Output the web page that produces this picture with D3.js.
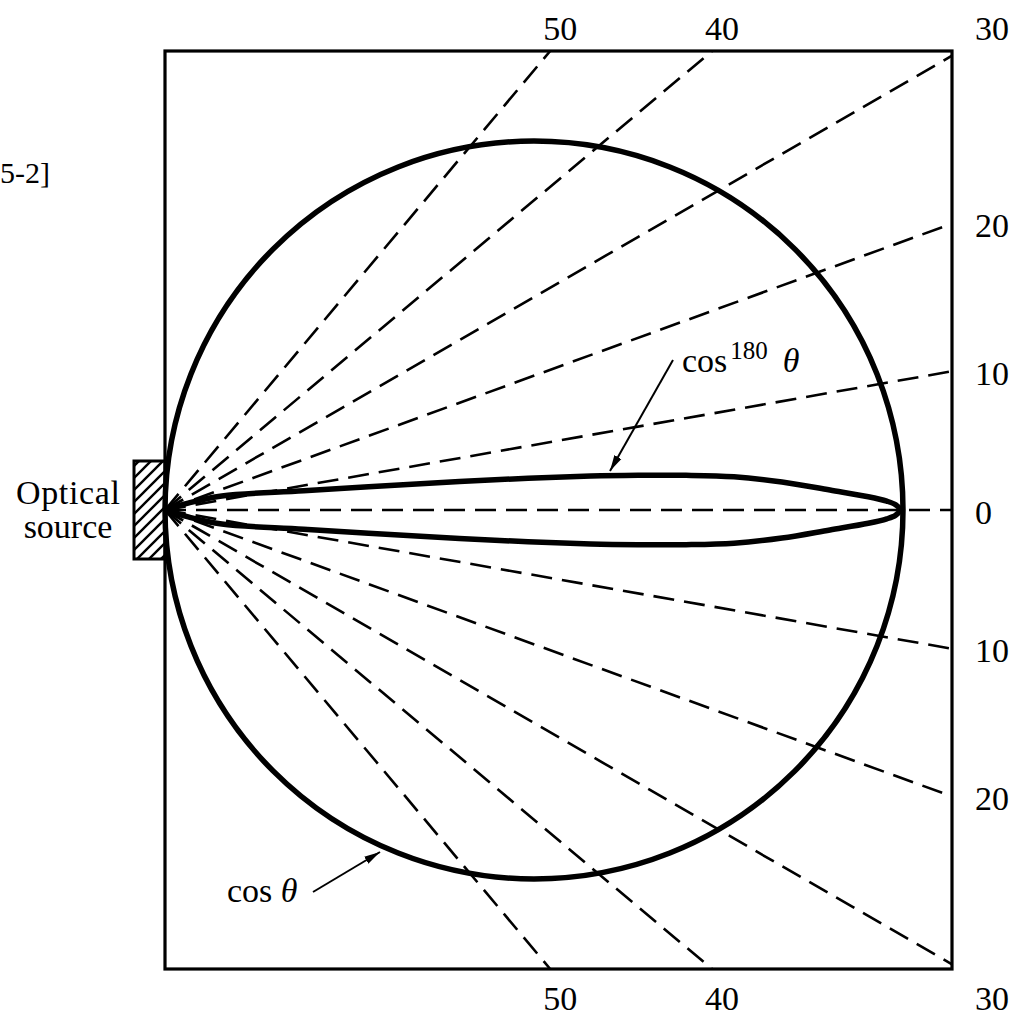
<!DOCTYPE html>
<html>
<head>
<meta charset="utf-8">
<script src="https://cdn.jsdelivr.net/npm/d3@7"></script>
<style>
  body { margin: 0; background: #fff; }
  text { font-family: "Liberation Serif", "Times New Roman", serif; fill: #000; }
</style>
</head>
<body>
<div id="vis"></div>
<script>
// ray angles in degrees (dashed guide lines from the source)
const rayAngles = [50, 40, 30, 20, 10, 0, -10, -20, -30, -40, -50];
const rayLabels = ["50", "40", "30", "20", "10", "0", "10", "20", "30", "40", "50"];

// cos θ pattern: a circle of diameter 1 (relative intensity)
const cosCenter = 0.5;
const cosRadius = 0.5;

// cos^180 θ lobe: distance along axis / half width
const lobeX    = [0, 0.03, 0.077, 0.188, 0.317, 0.447, 0.577, 0.641, 0.706, 0.771, 0.836, 0.901, 0.953, 0.978, 0.990, 0.996];
const lobeHalf = [0, 0.009, 0.019, 0.026, 0.034, 0.041, 0.046, 0.047, 0.047, 0.045, 0.038, 0.027, 0.018, 0.012, 0.007, 0];

const width = 1021;
const height = 1016;
const xMax = 1.0664, yMax = 0.622;

const svg = d3.create('svg')
    .attr('width', width)
    .attr('height', height);

const xScale = d3.scaleLinear().domain([0, xMax]).range([165, 952]);
const yScale = d3.scaleLinear().domain([-yMax, yMax]).range([969, 51]);

// hatch pattern for the source block
const defs = svg.append('defs');
defs.append('pattern')
    .attr('id', 'hatch')
    .attr('patternUnits', 'userSpaceOnUse')
    .attr('width', 12).attr('height', 12)
  .append('path')
    .attr('d', 'M-3,3 L3,-3 M0,12 L12,0 M9,15 L15,9')
    .attr('stroke', '#000')
    .attr('stroke-width', 2.4);

defs.append('marker')
    .attr('id', 'arrow')
    .attr('viewBox', '0 0 16 10')
    .attr('refX', 16).attr('refY', 5)
    .attr('markerWidth', 16).attr('markerHeight', 10)
    .attr('markerUnits', 'userSpaceOnUse')
    .attr('orient', 'auto')
  .append('path')
    .attr('d', 'M0,1 L16,5 L0,9 Z')
    .attr('fill', '#000');

// 1. dashed rays
const rays = rayAngles.map((a, i) => {
    const r = a * Math.PI / 180;
    const c = Math.cos(r), s = Math.sin(r);
    const tRight = xMax / c;
    const tTop = Math.abs(s) > 1e-9 ? yMax / Math.abs(s) : Infinity;
    const t = Math.min(tRight, tTop);
    return {angle: a, label: rayLabels[i], x: t * c, y: t * s, onTop: tTop < tRight};
});

svg.append('g')
    .selectAll('line')
    .data(rays)
    .join('line')
    .attr('x1', xScale(0)).attr('y1', yScale(0))
    .attr('x2', d => xScale(d.x)).attr('y2', d => yScale(d.y))
    .attr('stroke', '#000')
    .attr('stroke-width', 2.6)
    .attr('stroke-dasharray', '21,10');

// 2. frame
svg.append('rect')
    .attr('x', xScale(0)).attr('y', yScale(yMax))
    .attr('width', xScale(xMax) - xScale(0))
    .attr('height', yScale(-yMax) - yScale(yMax))
    .attr('fill', 'none')
    .attr('stroke', '#000')
    .attr('stroke-width', 3.2);

// 3. cos θ circle
svg.append('ellipse')
    .attr('cx', xScale(cosCenter)).attr('cy', yScale(0))
    .attr('rx', xScale(cosRadius) - xScale(0))
    .attr('ry', yScale(0) - yScale(cosRadius))
    .attr('fill', 'none')
    .attr('stroke', '#000')
    .attr('stroke-width', 5.5);

// 4. cos^180 θ lobe
const upper = lobeX.map((x, i) => [x, lobeHalf[i]]);
const lower = lobeX.map((x, i) => [x, -lobeHalf[i]]).reverse().slice(1);
const lobeLine = d3.line()
    .x(d => xScale(d[0]))
    .y(d => yScale(d[1]))
    .curve(d3.curveCatmullRom.alpha(0.5));

svg.append('path')
    .attr('d', lobeLine(upper.concat(lower)))
    .attr('fill', 'none')
    .attr('stroke', '#000')
    .attr('stroke-width', 5.5)
    .attr('stroke-linejoin', 'round');

// 5. source block
svg.append('rect')
    .attr('x', 134).attr('y', 461)
    .attr('width', xScale(0) - 134).attr('height', 98)
    .attr('fill', 'url(#hatch)')
    .attr('stroke', '#000')
    .attr('stroke-width', 3);

// 6. angle labels
svg.append('g')
    .selectAll('text')
    .data(rays)
    .join('text')
    .attr('font-size', 34)
    .attr('dominant-baseline', 'central')
    .attr('text-anchor', d => d.onTop ? 'middle' : 'start')
    .attr('x', d => d.onTop ? xScale(d.x) + 10 : 975)
    .attr('y', d => {
        const nearCorner = Math.abs(d.y) > yMax - 0.02;
        if (d.onTop || nearCorner) return d.y > 0 ? 28 : 998;
        return yScale(d.y) + 2;
    })
    .text(d => d.label);

// 7. source text
svg.append('text')
    .attr('x', 68).attr('y', 504)
    .attr('font-size', 34).attr('text-anchor', 'middle')
    .attr('textLength', 104)
    .text('Optical');
svg.append('text')
    .attr('x', 68).attr('y', 538)
    .attr('font-size', 34).attr('text-anchor', 'middle')
    .text('source');

// figure reference (only its tail shows at the page edge)
svg.append('text')
    .attr('x', 0).attr('y', 183)
    .attr('font-size', 30)
    .text('5-2]');

// 8. annotations
const a180 = svg.append('text')
    .attr('x', 682).attr('y', 372)
    .attr('font-size', 34);
a180.append('tspan').text('cos');
a180.append('tspan').attr('font-size', 25).attr('dy', -13).attr('dx', 3).text('180');
a180.append('tspan').attr('dy', 13).attr('dx', 15).attr('font-style', 'italic').text('θ');

svg.append('line')
    .attr('x1', 673).attr('y1', 360)
    .attr('x2', 610).attr('y2', 471)
    .attr('stroke', '#000')
    .attr('stroke-width', 2)
    .attr('marker-end', 'url(#arrow)');

const aCos = svg.append('text')
    .attr('x', 227).attr('y', 902)
    .attr('font-size', 34);
aCos.append('tspan').text('cos ');
aCos.append('tspan').attr('font-style', 'italic').text('θ');

svg.append('line')
    .attr('x1', 313).attr('y1', 892)
    .attr('x2', 380).attr('y2', 852)
    .attr('stroke', '#000')
    .attr('stroke-width', 2)
    .attr('marker-end', 'url(#arrow)');

document.getElementById('vis').appendChild(svg.node());
</script>
</body>
</html>
